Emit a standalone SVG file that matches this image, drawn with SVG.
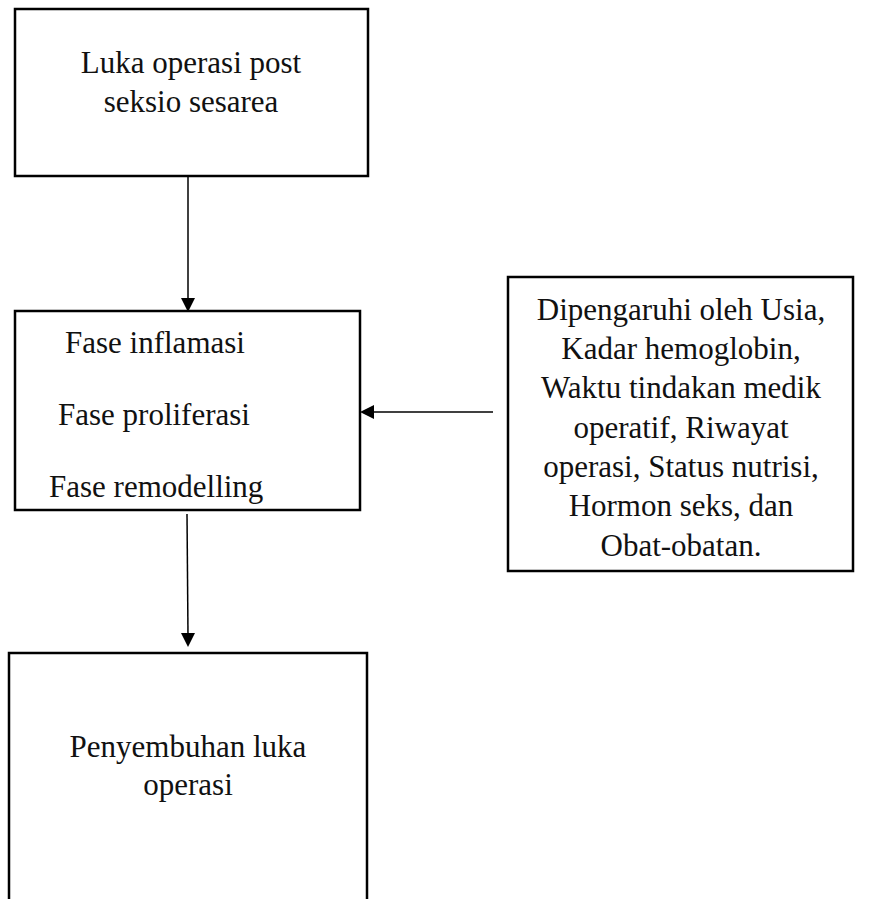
<svg xmlns="http://www.w3.org/2000/svg" width="870" height="899" viewBox="0 0 870 899">
<style>
.box{fill:#fff;stroke:#000;stroke-width:2.5}
.t{font-family:"Liberation Serif","Times New Roman",serif;font-size:31px;fill:#111}
.c{text-anchor:middle}
.ln{stroke:#000;stroke-width:1.5;fill:none}
</style>
<rect width="870" height="899" fill="#fff"/>
<g id="node-luka">
<rect class="box" x="15" y="9" width="353" height="167"/>
<text class="t c" x="191" y="73">Luka operasi post</text>
<text class="t c" x="191" y="112">seksio sesarea</text>
</g>
<g id="node-fase">
<rect class="box" x="15" y="311" width="345" height="199"/>
<text class="t" x="65" y="353">Fase inflamasi</text>
<text class="t" x="58" y="425">Fase proliferasi</text>
<text class="t" x="49" y="497">Fase remodelling</text>
</g>
<g id="node-faktor">
<rect class="box" x="508" y="277" width="345" height="294"/>
<text class="t c" x="681" y="320">Dipengaruhi oleh Usia,</text>
<text class="t c" x="681" y="359">Kadar hemoglobin,</text>
<text class="t c" x="681" y="398">Waktu tindakan medik</text>
<text class="t c" x="681" y="438">operatif, Riwayat</text>
<text class="t c" x="681" y="477">operasi, Status nutrisi,</text>
<text class="t c" x="681" y="516">Hormon seks, dan</text>
<text class="t c" x="681" y="556">Obat-obatan.</text>
</g>
<g id="node-penyembuhan">
<rect class="box" x="9" y="653" width="358" height="260"/>
<text class="t c" x="188" y="757">Penyembuhan luka</text>
<text class="t c" x="188" y="795">operasi</text>
</g>
<g id="connectors">
<line class="ln" x1="188" y1="176" x2="188" y2="300"/>
<polygon points="181,298 195,298 188,312"/>
<line class="ln" x1="493" y1="412" x2="372" y2="412"/>
<polygon points="374,405 374,419 360,412"/>
<line class="ln" x1="187" y1="514" x2="188" y2="636"/>
<polygon points="181,633 195,633 188,647"/>
</g>
</svg>
